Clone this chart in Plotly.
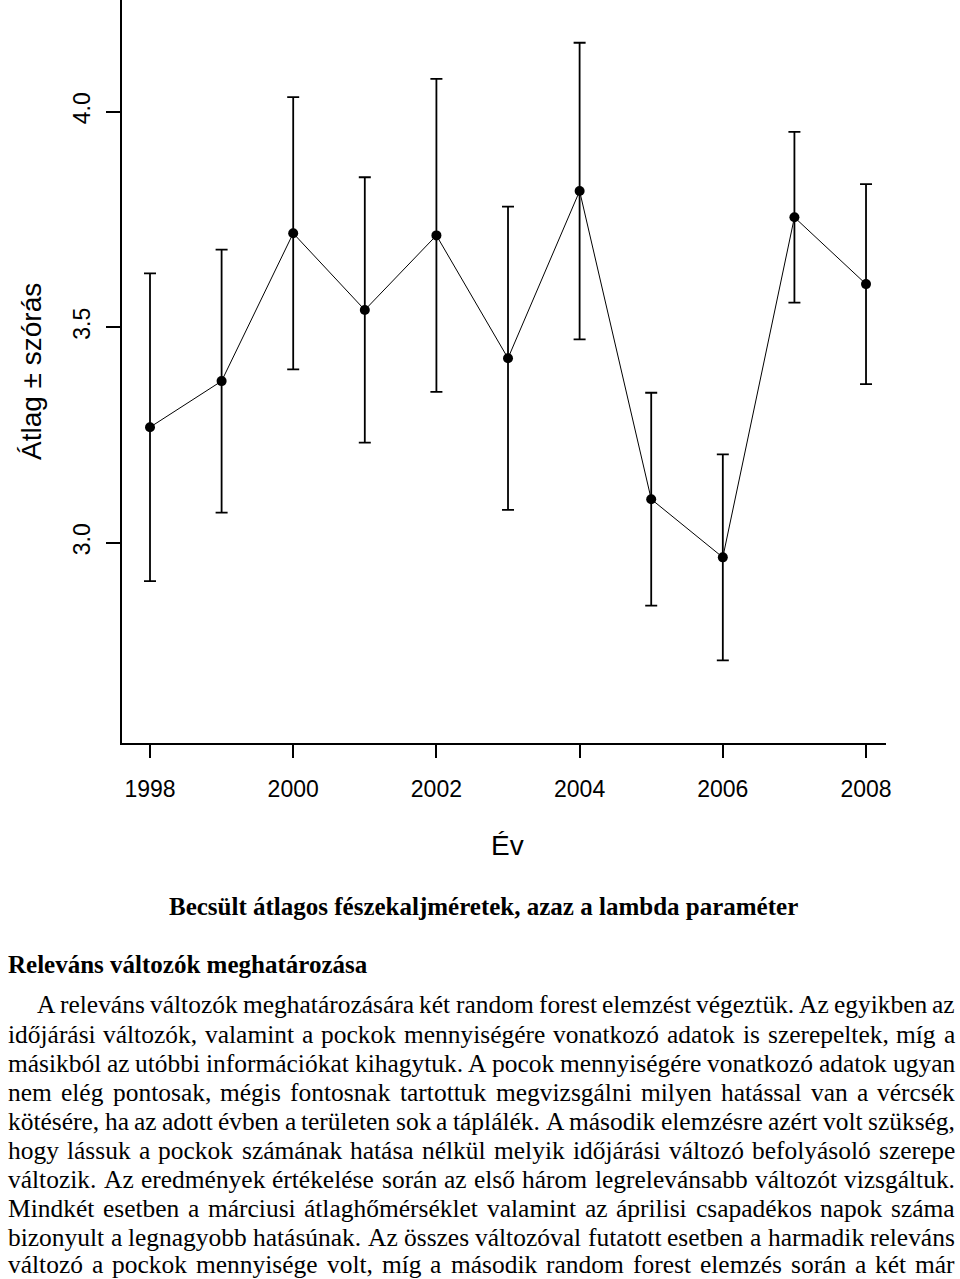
import unicodedata
import plotly.graph_objects as go

# ---------------- data ----------------
years = [1998, 1999, 2000, 2001, 2002, 2003, 2004, 2005, 2006, 2007, 2008]
means = [3.268, 3.375, 3.718, 3.540, 3.713, 3.428, 3.816, 3.101, 2.966, 3.755, 3.600]
sds = [0.357, 0.305, 0.316, 0.308, 0.363, 0.352, 0.344, 0.247, 0.239, 0.198, 0.232]
x_ticks = [1998, 2000, 2002, 2004, 2006, 2008]
y_ticks = [3.0, 3.5, 4.0]
y_tick_labels = ["3.0", "3.5", "4.0"]

x_title = "Év"
y_title = "Átlag ± szórás"
caption = "Becsült átlagos fészekaljméretek, azaz a lambda paraméter"
heading = "Releváns változók meghatározása"
paragraph_lines = [
    "A releváns változók meghatározására két random forest elemzést végeztük. Az egyikben az",
    "időjárási változók, valamint a pockok mennyiségére vonatkozó adatok is szerepeltek, míg a",
    "másikból az utóbbi információkat kihagytuk. A pocok mennyiségére vonatkozó adatok ugyan",
    "nem elég pontosak, mégis fontosnak tartottuk megvizsgálni milyen hatással van a vércsék",
    "kötésére, ha az adott évben a területen sok a táplálék. A második elemzésre azért volt szükség,",
    "hogy lássuk a pockok számának hatása nélkül melyik időjárási változó befolyásoló szerepe",
    "változik. Az eredmények értékelése során az első három legrelevánsabb változót vizsgáltuk.",
    "Mindkét esetben a márciusi átlaghőmérséklet valamint az áprilisi csapadékos napok száma",
    "bizonyult a legnagyobb hatásúnak. Az összes változóval futatott esetben a harmadik releváns",
    "változó a pockok mennyisége volt, míg a második random forest elemzés során a két már",
]

# ---------------- page geometry (pixels) ----------------
W, H = 960, 1279
PL, PR, PT, PB = 122, 886, 0, 743  # plot area edges
x_range = [1997.609, 2008.279]
y_range = [2.5353, 4.2592]

SANS = "Liberation Sans, Arial, sans-serif"
SERIF = "Liberation Serif, Times New Roman, serif"


def px(x):
    return (x - PL) / (PR - PL)


def py(y):
    return (PB - y) / (PB - PT)


# Times New Roman advance widths (1/1000 em)
TW = {' ': 250, 'a': 444, 'b': 500, 'c': 444, 'd': 500, 'e': 444, 'f': 333, 'g': 500,
      'h': 500, 'i': 278, 'j': 278, 'k': 500, 'l': 278, 'm': 778, 'n': 500, 'o': 500,
      'p': 500, 'q': 500, 'r': 333, 's': 389, 't': 278, 'u': 500, 'v': 500, 'w': 722,
      'x': 500, 'y': 500, 'z': 444, 'A': 722, 'B': 667, 'C': 667, 'D': 722, 'E': 611,
      'F': 556, 'G': 722, 'H': 722, 'I': 333, 'J': 389, 'K': 722, 'L': 611, 'M': 889,
      'N': 722, 'O': 722, 'P': 556, 'Q': 722, 'R': 667, 'S': 556, 'T': 611, 'U': 722,
      'V': 722, 'W': 944, 'X': 722, 'Y': 722, 'Z': 611, '.': 250, ',': 250}


def word_em(word):
    total = 0
    for ch in word:
        base = unicodedata.normalize('NFD', ch)[0]
        total += TW.get(base, 500)
    return total / 1000


fig = go.Figure()
fig.add_trace(go.Scatter(
    x=years, y=means, mode="lines+markers",
    line=dict(color="black", width=1),
    marker=dict(color="black", size=10),
    error_y=dict(type="data", array=sds, visible=True, color="black",
                 thickness=1.8, width=6),
    showlegend=False,
))

annotations = []
# axis titles
annotations.append(dict(x=px(507), y=py(845), xref="paper", yref="paper", text=x_title,
                        showarrow=False, xanchor="center", yanchor="middle",
                        font=dict(family=SANS, size=28, color="black"),
                        borderpad=0, borderwidth=0))
annotations.append(dict(x=px(32), y=py(372), xref="paper", yref="paper", text=y_title,
                        showarrow=False, xanchor="center", yanchor="middle", textangle=-90,
                        font=dict(family=SANS, size=28, color="black"),
                        borderpad=0, borderwidth=0))
# caption and heading
annotations.append(dict(x=px(483), y=py(906), xref="paper", yref="paper",
                        text="<b>" + caption + "</b>", showarrow=False,
                        xanchor="center", yanchor="middle",
                        font=dict(family=SERIF, size=25, color="black"),
                        borderpad=0, borderwidth=0))
annotations.append(dict(x=px(8), y=py(965), xref="paper", yref="paper",
                        text="<b>" + heading + "</b>", showarrow=False,
                        xanchor="left", yanchor="middle",
                        font=dict(family=SERIF, size=25, color="black"),
                        borderpad=0, borderwidth=0))

# justified paragraph
line_y = [1005, 1034, 1063, 1092, 1121, 1150, 1179, 1208, 1237, 1264]
right = 955
lefts = [37] + [8] * (len(paragraph_lines) - 1)
# largest font size for which every line fits with a minimum word gap of 0.2 em
fits = []
for line, left in zip(paragraph_lines, lefts):
    words = line.split(" ")
    fits.append((right - left) / (sum(word_em(w) for w in words) + 0.2 * (len(words) - 1)))
FS = min(25.5, min(fits))

for i, line in enumerate(paragraph_lines):
    left = lefts[i]
    words = line.split(" ")
    widths = [word_em(w) * FS for w in words]
    gap = (right - left - sum(widths)) / (len(words) - 1)
    xpos = left
    for w, wd in zip(words, widths):
        annotations.append(dict(x=px(xpos), y=py(line_y[i]), xref="paper", yref="paper",
                                text=w, showarrow=False, xanchor="left", yanchor="middle",
                                font=dict(family=SERIF, size=FS, color="black"),
                                borderpad=0, borderwidth=0))
        xpos += wd + gap

fig.update_layout(
    width=W, height=H,
    margin=dict(l=PL, r=W - PR, t=PT, b=H - PB, pad=0),
    paper_bgcolor="white", plot_bgcolor="white",
    annotations=annotations,
    xaxis=dict(range=x_range, tickvals=x_ticks, ticks="outside", ticklen=13,
               tickwidth=1.5, tickcolor="black", showline=True, linecolor="black",
               linewidth=1.5, showgrid=False, zeroline=False,
               tickfont=dict(family=SANS, size=23, color="black"),
               ticklabelstandoff=12),
    yaxis=dict(range=y_range, tickvals=y_ticks, ticktext=y_tick_labels, ticks="outside",
               ticklen=14, tickwidth=1.5, tickcolor="black", showline=True,
               linecolor="black", linewidth=1.5, showgrid=False, zeroline=False,
               tickangle=-90,
               tickfont=dict(family=SANS, size=23, color="black"),
               ticklabelstandoff=7),
)

fig.write_html("out.html")
